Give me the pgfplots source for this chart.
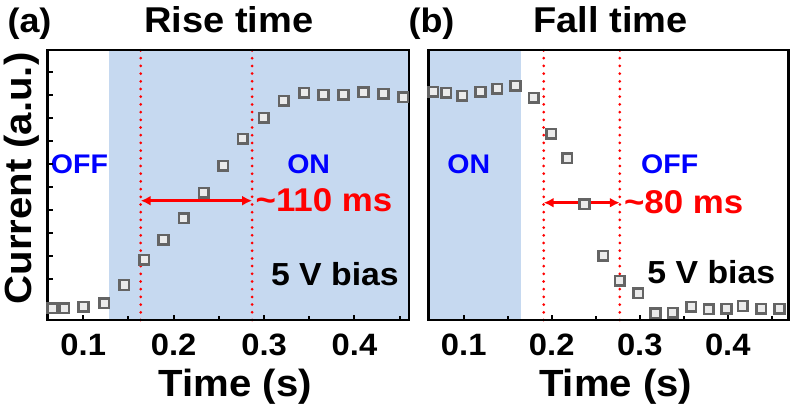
\documentclass[border=0pt]{standalone}
\usepackage{fontspec}
\setmainfont[FakeStretch=1.06]{Liberation Sans}
\usepackage{pgfplots}
\pgfplotsset{compat=1.18}
\usetikzlibrary{arrows.meta}
\definecolor{shade}{RGB}{198,217,240}
\definecolor{mkedge}{RGB}{100,100,100}
\definecolor{mkfill}{RGB}{235,235,235}
\newcommand{\fs}[1]{\fontsize{#1}{#1}\selectfont\bfseries}
\tikzset{
  arr/.style={red, line width=2.5bp, {Latex[length=10bp,width=10bp]}-{Latex[length=10bp,width=10bp]}},
  vl/.style={red, line width=3bp, line cap=round, dash pattern=on 0bp off 7.7bp},
}
\pgfplotsset{
  myax/.style={
    scale only axis, height=270bp, ymin=0, ymax=270,
    clip=false, axis on top=true,
    axis line style={line width=2.5bp},
    every tick/.style={black, line width=2bp},
    major tick length=5bp, minor tick length=3.5bp,
    tick align=inside,
    xtick pos=lower, ytick pos=left,
    xtick={0.1,0.2,0.3,0.4},
    minor xtick={0.05,0.15,0.25,0.35,0.45},
    xticklabels={0.1,0.2,0.3,0.4},
    xticklabel style={font=\fs{31}, anchor=north, inner sep=0pt, yshift=-13.5bp},
    xlabel={Time (s)},
    xlabel style={font=\fs{38}, at={(axis description cs:0.52,-0.285)}, anchor=base, inner sep=0pt},
  },
  mk/.style={only marks, mark=square*, mark size=4.8bp,
    mark options={draw=mkedge, fill=mkfill, line width=2.6bp}},
}
\begin{document}
\begin{tikzpicture}
\useasboundingbox (0,0) rectangle (794bp,411bp);
% ---------------- (a) Rise time ----------------
\begin{axis}[myax, at={(47.5bp,91bp)}, anchor=south west, width=361.5bp,
  xmin=0.0605, xmax=0.4603,
  ytick={40.7,63.7,86.7,109.7,132.7,155.7,178.7,201.7,224.7,247.7},
  yticklabels={},
  ylabel={Current (a.u.)},
  ylabel style={font=\fs{38}, at={(axis description cs:-0.0429,0.524)}, anchor=base, inner sep=0pt},
]
\addplot[draw=none, fill=shade, forget plot] coordinates {(0.1287,0) (0.4603,0) (0.4603,270) (0.1287,270)} -- cycle;
\addplot[vl, forget plot] coordinates {(0.1636,0) (0.1636,270)};
\addplot[vl, forget plot] coordinates {(0.2868,0) (0.2868,270)};
\addplot[mk] coordinates {
(0.0655,11.7) (0.0790,11.7) (0.1004,13.3) (0.1232,16.7) (0.1452,35.0)
(0.1673,60.0) (0.1887,80.0) (0.2114,101.7) (0.2335,127.3) (0.2549,154.0)
(0.2765,181.0) (0.2996,202.3) (0.3217,219.0) (0.3445,227.3) (0.3658,225.0)
(0.3879,225.0) (0.4099,227.7) (0.4320,226.0) (0.4540,222.7)};
\draw[arr] (axis cs:0.1636,119.3) -- (axis cs:0.2868,119.3);
\node[font=\fs{27}, blue, anchor=base] at (axis cs:0.0958,146.7) {OFF};
\node[font=\fs{27}, blue, anchor=base] at (axis cs:0.3493,146.7) {ON};
\node[font=\fs{33}, red, anchor=base west, inner sep=0pt] at (axis cs:0.2905,108.3) {\textasciitilde 110 ms};
\node[font=\fs{32}, black, anchor=base west, inner sep=0pt] at (axis cs:0.3075,35) {5 V bias};
\end{axis}
% ---------------- (b) Fall time ----------------
\begin{axis}[myax, at={(428.5bp,91bp)}, anchor=south west, width=360bp,
  xmin=0.06, xmax=0.469,
  ytick=\empty,
]
\addplot[draw=none, fill=shade, forget plot] coordinates {(0.06,0) (0.1652,0) (0.1652,270) (0.06,270)} -- cycle;
\addplot[vl, forget plot] coordinates {(0.1909,0) (0.1909,270)};
\addplot[vl, forget plot] coordinates {(0.2773,0) (0.2773,270)};
\addplot[mk] coordinates {
(0.0652,228.3) (0.0803,227.3) (0.0982,224.0) (0.1190,228.3) (0.1380,231.0)
(0.1588,234.3) (0.1795,222.3) (0.1993,186.0) (0.2175,161.7) (0.2372,115.7)
(0.2584,64.0) (0.2773,39.3) (0.2982,26.7) (0.3178,6.7) (0.3375,7.3)
(0.3584,13.3) (0.3784,10.7) (0.3985,11.3) (0.4170,14.0) (0.4380,11.3)
(0.4588,11.3)};
\draw[arr] (axis cs:0.1909,117.3) -- (axis cs:0.2773,117.3);
\node[font=\fs{27}, blue, anchor=base] at (axis cs:0.1057,146.7) {ON};
\node[font=\fs{27}, blue, anchor=base] at (axis cs:0.334,146.7) {OFF};
\node[font=\fs{33}, red, anchor=base west, inner sep=0pt] at (axis cs:0.2820,106.7) {\textasciitilde 80 ms};
\node[font=\fs{32}, black, anchor=base west, inner sep=0pt] at (axis cs:0.3085,36.7) {5 V bias};
\end{axis}
% titles
\node[font=\fs{34}, anchor=base] at (29.5bp,378bp) {(a)};
\node[font=\fs{36}, anchor=base] at (229bp,378bp) {Rise time};
\node[font=\fs{34}, anchor=base] at (431.5bp,378bp) {(b)};
\node[font=\fs{36}, anchor=base] at (610.5bp,378bp) {Fall time};
\end{tikzpicture}
\end{document}
